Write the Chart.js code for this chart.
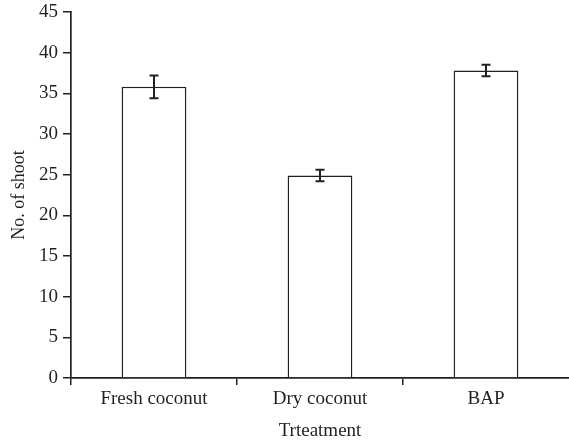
<!DOCTYPE html>
<html>
<head>
<meta charset="utf-8">
<script src="https://cdn.jsdelivr.net/npm/chart.js@4.4.1/dist/chart.umd.min.js"></script>
<style>
  html, body { margin: 0; padding: 0; background: #fff; }
  #wrap { width: 569px; height: 442px; }
</style>
</head>
<body>
<div id="wrap"><canvas id="myChart" width="569" height="442"></canvas></div>
<script>
const categories = ['Fresh coconut', 'Dry coconut', 'BAP'];
const shoots = [35.8, 24.9, 37.8];
const shootErr = [1.4, 0.7, 0.7];
const yTicks = [0, 5, 10, 15, 20, 25, 30, 35, 40, 45];

const ink = '#231f20';

// draws the +/- error bars on top of each bar
const errorBars = {
    id: 'errorBars',
    afterDatasetsDraw(chart) {
        const ctx = chart.ctx;
        const meta = chart.getDatasetMeta(0);
        const y = chart.scales.y;
        ctx.save();
        ctx.strokeStyle = ink;
        ctx.lineWidth = 2;
        meta.data.forEach((bar, i) => {
            const top = y.getPixelForValue(shoots[i] + shootErr[i]);
            const bot = y.getPixelForValue(shoots[i] - shootErr[i]);
            const x = bar.x;
            ctx.beginPath();
            ctx.moveTo(x, top); ctx.lineTo(x, bot);
            ctx.moveTo(x - 4.5, top); ctx.lineTo(x + 4.5, top);
            ctx.moveTo(x - 4.5, bot); ctx.lineTo(x + 4.5, bot);
            ctx.stroke();
        });
        ctx.restore();
    }
};

const ctx = document.getElementById('myChart').getContext('2d');

const chart = new Chart(ctx, {
    type: 'bar',
    data: {
        labels: categories,
        datasets: [{
            data: shoots,
            backgroundColor: '#ffffff',
            borderColor: ink,
            borderWidth: 1.5,
            categoryPercentage: 1,
            barPercentage: 0.39
        }]
    },
    options: {
        responsive: false,
        animation: false,
        layout: { autoPadding: false, padding: { top: 12, right: 0, left: 0, bottom: 0 } },
        plugins: {
            legend: { display: false },
            tooltip: { enabled: false }
        },
        scales: {
            x: {
                grid: {
                    offset: true,
                    drawOnChartArea: false,
                    drawTicks: true,
                    tickLength: 7,
                    lineWidth: 1.5,
                    color: c => c.type === 'tick' ? ink : 'rgba(0,0,0,0)'
                },
                border: { display: true, color: ink, width: 1.7 },
                ticks: {
                    color: ink,
                    padding: 3,
                    font: { family: 'Liberation Serif', size: 19 }
                },
                title: {
                    display: true,
                    text: 'Trteatment',
                    color: ink,
                    padding: { top: 4, bottom: 0 },
                    font: { family: 'Liberation Serif', size: 19 }
                },
                afterFit(scale) { scale.height = 64; }
            },
            y: {
                min: 0,
                max: 45,
                afterBuildTicks(scale) {
                    scale.ticks = yTicks.map(v => ({ value: v }));
                },
                grid: {
                    drawOnChartArea: false,
                    drawTicks: true,
                    tickLength: 8,
                    lineWidth: 1.5,
                    color: ink
                },
                border: { display: true, color: ink, width: 1.7 },
                ticks: {
                    color: ink,
                    padding: 5,
                    font: { family: 'Liberation Serif', size: 19 }
                },
                title: {
                    display: true,
                    text: 'No. of shoot',
                    color: ink,
                    padding: { top: 8, bottom: 0 },
                    font: { family: 'Liberation Serif', size: 18 }
                },
                afterFit(scale) {
                    scale.width = 71;
                    scale.paddingTop = 0;
                    scale.paddingBottom = 0;
                }
            }
        }
    },
    plugins: [errorBars]
});
</script>
</body>
</html>
